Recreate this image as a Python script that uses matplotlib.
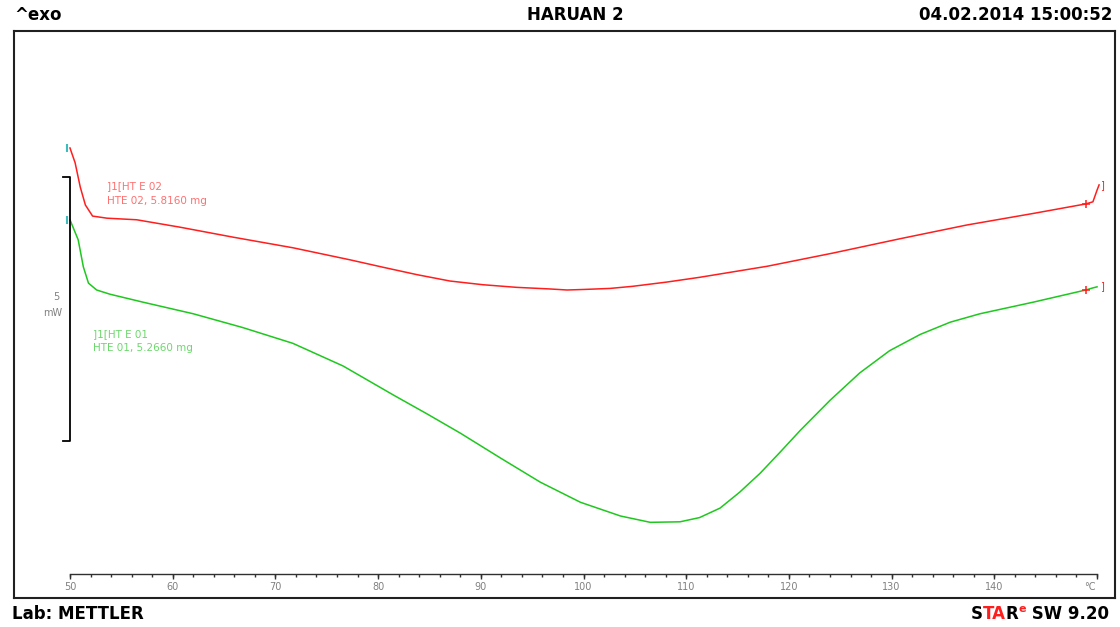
import matplotlib
matplotlib.use("Agg")
import matplotlib.pyplot as plt

# ---------------- data (temperature in degC, heat flow in mW, arbitrary offset) --------------
red_T = [50.0, 50.5, 51.0, 51.5, 52.0, 52.2, 53.6, 56.5, 60.7, 65.9, 71.7, 77.3, 80.5,
         83.8, 87.0, 90.2, 93.5, 96.7, 98.4, 100.0, 102.6, 104.8, 108.1, 111.3, 117.9,
         124.3, 130.8, 137.3, 143.8, 148.9, 149.6, 150.0, 150.2]
red_H = [5.55, 5.27, 4.81, 4.47, 4.32, 4.26, 4.22, 4.19, 4.05, 3.86, 3.66, 3.43, 3.29,
         3.15, 3.03, 2.96, 2.91, 2.88, 2.86, 2.87, 2.89, 2.93, 3.01, 3.10, 3.31,
         3.56, 3.83, 4.09, 4.31, 4.49, 4.53, 4.75, 4.85]

green_T = [50.0, 50.8, 51.3, 51.8, 52.6, 53.9, 57.1, 62.0, 66.8, 71.7, 76.6, 81.5, 84.8,
           88.0, 91.9, 95.8, 99.7, 103.6, 106.5, 109.4, 111.3, 113.3, 115.2, 117.2, 119.1,
           121.1, 124.0, 126.9, 129.8, 132.8, 135.7, 138.6, 141.2, 143.8, 148.9, 149.6, 150.0]
green_H = [4.19, 3.81, 3.30, 2.99, 2.86, 2.78, 2.63, 2.41, 2.15, 1.85, 1.42, 0.87, 0.51,
           0.15, -0.32, -0.78, -1.16, -1.42, -1.54, -1.53, -1.45, -1.27, -0.97, -0.61, -0.22,
           0.20, 0.77, 1.29, 1.71, 2.02, 2.25, 2.41, 2.52, 2.63, 2.86, 2.90, 2.92]

x_major = [50, 60, 70, 80, 90, 100, 110, 120, 130, 140]
x_minor_step = 2
x_end = 150
unit_label = "°C"
scale_bar_mW = 5

red_label = ["]1[HT E 02", "HTE 02, 5.8160 mg"]
green_label = ["]1[HT E 01", "HTE 01, 5.2660 mg"]

title_left = "^exo"
title_center = "HARUAN 2"
title_right = "04.02.2014 15:00:52"
footer_left = "Lab: METTLER"

RED = "#ff1e1e"
GREEN = "#1ec81e"
GRAY = "#808080"

# ---------------- figure ----------------
W, H = 1120, 627
fig = plt.figure(figsize=(W / 100, H / 100), dpi=100)
left, right, top, bottom = 14, 1115, 31, 598
ax = fig.add_axes([left / W, 1 - bottom / H, (right - left) / W, (bottom - top) / H])
ax.set_xlim(44.55, 151.75)
ax.set_ylim(-2.973, 7.765)
ax.set_xticks([])
ax.set_yticks([])
for s in ax.spines.values():
    s.set_linewidth(1.5)
    s.set_color("#202020")

# curves
ax.plot(red_T, red_H, color=RED, lw=1.1, solid_joinstyle="round")
ax.plot(green_T, green_H, color=GREEN, lw=1.1, solid_joinstyle="round")

# start markers (cyan) and end markers
ax.plot([red_T[0] - 0.3], [red_H[0]], marker="|", color="#3cbcbc", ms=6, mew=1.5)
ax.plot([green_T[0] - 0.3], [green_H[0]], marker="|", color="#3cbcbc", ms=6, mew=1.5)
ax.plot([red_T[-4]], [red_H[-4]], marker="+", color=RED, ms=6, mew=1.1)
ax.plot([green_T[-3]], [green_H[-3]], marker="+", color=RED, ms=6, mew=1.1)
ax.text(red_T[-1] + 0.05, red_H[-1], "]", color=RED, fontsize=7, ha="left", va="center")
ax.text(green_T[-1] + 0.25, green_H[-1] + 0.02, "]", color=RED, fontsize=7, ha="left", va="center")

# scale bar (5 mW)
tick_dx = 0.68
ax.plot([50 - tick_dx, 50, 50, 50 - tick_dx], [scale_bar_mW, scale_bar_mW, 0, 0],
        color="black", lw=1.3)
ax.text(49.0, 2.72, str(scale_bar_mW), color=GRAY, fontsize=7, ha="right", va="center")
ax.text(49.2, 2.43, "mW", color=GRAY, fontsize=7, ha="right", va="center")

# curve labels
ax.text(53.6, 4.82, red_label[0], color="#ff7070", fontsize=7.5, ha="left", va="center")
ax.text(53.6, 4.55, red_label[1], color="#ff7070", fontsize=7.5, ha="left", va="center")
ax.text(52.2, 2.03, green_label[0], color="#6cd86c", fontsize=7.5, ha="left", va="center")
ax.text(52.2, 1.76, green_label[1], color="#6cd86c", fontsize=7.5, ha="left", va="center")

# temperature axis drawn inside the frame
y_ax = -2.52
ax.plot([x_major[0], x_end], [y_ax, y_ax], color="#303030", lw=1.0)
minor = list(range(x_major[0], x_end + 1, x_minor_step))
ax.vlines(minor, y_ax - 0.05, y_ax, color="#303030", lw=1.0)
ax.vlines(x_major + [x_end], y_ax - 0.09, y_ax, color="#303030", lw=1.0)
for v in x_major:
    ax.text(v, -2.765, str(v), color=GRAY, fontsize=7, ha="center", va="center")
ax.text(x_end - 0.7, -2.765, unit_label, color=GRAY, fontsize=7, ha="center", va="center")

# header
hfs = 12
fig.text(14 / W, 1 - 15 / H, title_left, fontsize=hfs, fontweight="bold", ha="left", va="center")
fig.text(575 / W, 1 - 15 / H, title_center, fontsize=hfs, fontweight="bold", ha="center", va="center")
fig.text(1112 / W, 1 - 15 / H, title_right, fontsize=hfs, fontweight="bold", ha="right", va="center")

# footer
fig.text(12 / W, 1 - 614 / H, footer_left, fontsize=hfs, fontweight="bold", ha="left", va="center")

renderer = fig.canvas.get_renderer()
pieces = [("S", "black", hfs, 0), ("TA", RED, hfs, 0), ("R", "black", hfs, 0),
          ("e", RED, 8, 5), (" SW 9.20", "black", hfs, 0)]
objs = []
widths = []
for txt, col, fs, dy in pieces:
    t = fig.text(0, 0, txt, fontsize=fs, fontweight="bold", color=col, ha="left", va="center")
    objs.append((t, dy))
    widths.append(t.get_window_extent(renderer).width)
x = 1110 - sum(widths) - 1
for (t, dy), w in zip(objs, widths):
    t.set_position((x / W, (H - 614 + dy) / H))
    x += w

fig.savefig("out.png", dpi=100)
